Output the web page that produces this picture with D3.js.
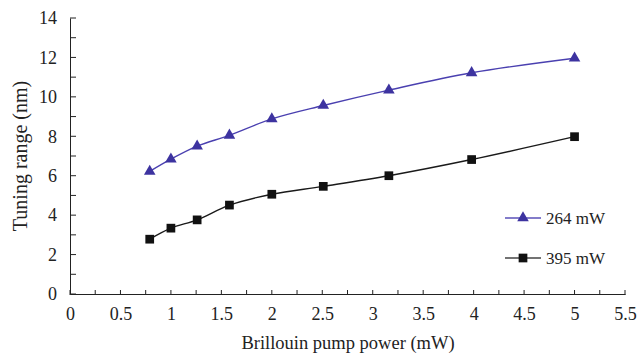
<!DOCTYPE html>
<html>
<head>
<meta charset="utf-8">
<script src="https://cdn.jsdelivr.net/npm/d3@7"></script>
<style>
body { margin: 0; background: #fff; }
svg, svg text { font-family: 'Liberation Serif', 'Times New Roman', Tinos; }
</style>
</head>
<body>
<svg id="chart"></svg>
<script>
var width = 641;
var height = 356;
var margin = {top: 18, bottom: 62, left: 70, right: 16};
var widthInner = width - margin.left - margin.right;
var heightInner = height - margin.top - margin.bottom;
var serif = "'Liberation Serif', 'Times New Roman', Tinos";

// data
var pumpPower = [0.79, 1.0, 1.26, 1.58, 2.0, 2.51, 3.16, 3.98, 5.0];
var range264 = [6.22, 6.84, 7.5, 8.05, 8.88, 9.56, 10.34, 11.22, 11.96];
var range395 = [2.78, 3.34, 3.76, 4.51, 5.06, 5.46, 6.0, 6.82, 7.98];
var xTicks = [0, 0.5, 1, 1.5, 2, 2.5, 3, 3.5, 4, 4.5, 5, 5.5];
var yTicks = [0, 2, 4, 6, 8, 10, 12, 14];

var series = [
	{name: '264 mW', values: range264, color: '#3d33a0', lineColor: '#4a40b0', marker: 'triangle'},
	{name: '395 mW', values: range395, color: '#111111', lineColor: '#1a1a1a', marker: 'square'}
];

var svg = d3.select('#chart')
	.attr('width', width)
	.attr('height', height)
	.attr('font-family', serif);

var g = svg.append('g')
	.attr('transform', 'translate(' + margin.left + ',' + margin.top + ')');

var x = d3.scaleLinear()
	.range([0, widthInner])
	.domain([0, 5.5]);

var y = d3.scaleLinear()
	.range([heightInner, 0])
	.domain([0, 14]);

// minor ticks
var xMinor = d3.range(0, 5.51, 0.25);
var yMinor = d3.range(0, 14.01, 1);

g.append('g')
	.selectAll('line')
	.data(xMinor)
	.enter().append('line')
	.attr('x1', function(d) { return x(d); })
	.attr('x2', function(d) { return x(d); })
	.attr('y1', heightInner + 1)
	.attr('y2', heightInner - 4)
	.attr('stroke', '#222');

g.append('g')
	.selectAll('line')
	.data(yMinor)
	.enter().append('line')
	.attr('y1', function(d) { return y(d); })
	.attr('y2', function(d) { return y(d); })
	.attr('x1', 0)
	.attr('x2', 6)
	.attr('stroke', '#222');

var xAxis = d3.axisBottom(x).tickValues(xTicks).tickSize(0).tickPadding(13)
	.tickFormat(function(d) { return d; });
var yAxis = d3.axisLeft(y).tickValues(yTicks).tickSize(0).tickPadding(13);

g.append('g')
	.attr('transform', 'translate(0,' + heightInner + ')')
	.call(xAxis)
	.attr('font-family', null)
	.attr('font-size', null)
	.call(function(s) { s.select('.domain').attr('stroke', '#222'); })
	.selectAll('text')
	.style('font-size', '18px')
	.attr('fill', '#222');

g.append('g')
	.call(yAxis)
	.attr('font-family', null)
	.attr('font-size', null)
	.call(function(s) { s.select('.domain').attr('stroke', '#222'); })
	.selectAll('text')
	.style('font-size', '18px')
	.attr('fill', '#222');

// axis titles
svg.append('text')
	.attr('x', 348)
	.attr('y', 349)
	.attr('text-anchor', 'middle')
	.style('font-size', '18.5px')
	.attr('fill', '#222')
	.text('Brillouin pump power (mW)');

svg.append('text')
	.attr('transform', 'translate(27,156) rotate(-90)')
	.attr('text-anchor', 'middle')
	.style('font-size', '20px')
	.attr('fill', '#222')
	.text('Tuning range (nm)');

var line = d3.line()
	.x(function(d, i) { return x(pumpPower[i]); })
	.y(function(d) { return y(d); })
	.curve(d3.curveCatmullRom.alpha(0.5));

var triangle = d3.symbol().type(d3.symbolTriangle).size(58);
var square = d3.symbol().type(d3.symbolSquare).size(76);

series.forEach(function(s) {
	g.append('path')
		.attr('d', line(s.values))
		.attr('fill', 'none')
		.attr('stroke', s.lineColor)
		.attr('stroke-width', 1.4);

	g.selectAll('.m' + s.marker)
		.data(s.values)
		.enter().append('path')
		.attr('class', 'm' + s.marker)
		.attr('transform', function(d, i) { return 'translate(' + x(pumpPower[i]) + ',' + y(d) + ')'; })
		.attr('d', s.marker === 'triangle' ? triangle : square)
		.attr('fill', s.color);
});

// legend
var legend = svg.append('g')
	.selectAll('g')
	.data(series)
	.enter().append('g')
	.attr('transform', function(d, i) { return 'translate(505,' + (218 + i * 40) + ')'; });

legend.append('line')
	.attr('x1', 0)
	.attr('x2', 36)
	.attr('stroke', function(d) { return d.marker === 'triangle' ? '#5a50b8' : '#444'; })
	.attr('stroke-width', 1.4);

legend.append('path')
	.attr('transform', 'translate(18,0)')
	.attr('d', function(d) { return d.marker === 'triangle' ? triangle() : square(); })
	.attr('fill', function(d) { return d.color; });

legend.append('text')
	.attr('x', 41)
	.attr('y', 6)
	.style('font-size', '17px')
	.attr('fill', '#222')
	.text(function(d) { return d.name; });
</script>
</body>
</html>
